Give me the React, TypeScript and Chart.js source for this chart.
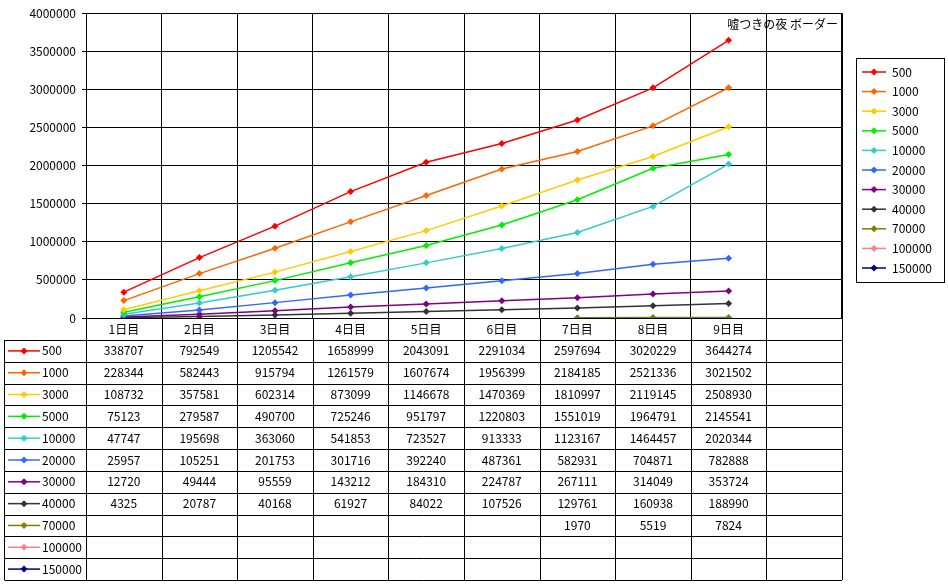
import React, { useEffect, useRef } from "react";
import { Chart, registerables } from "chart.js";
Chart.register(...registerables);

const categories = ["1日目", "2日目", "3日目", "4日目", "5日目", "6日目", "7日目", "8日目", "9日目", ""];
const seriesNames = ["500", "1000", "3000", "5000", "10000", "20000", "30000", "40000", "70000", "100000", "150000"];
const colors = ["#ff0000", "#ff6600", "#ffcc00", "#00ee00", "#33cccc", "#3366ff", "#800080", "#333333", "#808000", "#ff8080", "#000080"];
const s500 = [338707, 792549, 1205542, 1658999, 2043091, 2291034, 2597694, 3020229, 3644274, null];
const s1000 = [228344, 582443, 915794, 1261579, 1607674, 1956399, 2184185, 2521336, 3021502, null];
const s3000 = [108732, 357581, 602314, 873099, 1146678, 1470369, 1810997, 2119145, 2508930, null];
const s5000 = [75123, 279587, 490700, 725246, 951797, 1220803, 1551019, 1964791, 2145541, null];
const s10000 = [47747, 195698, 363060, 541853, 723527, 913333, 1123167, 1464457, 2020344, null];
const s20000 = [25957, 105251, 201753, 301716, 392240, 487361, 582931, 704871, 782888, null];
const s30000 = [12720, 49444, 95559, 143212, 184310, 224787, 267111, 314049, 353724, null];
const s40000 = [4325, 20787, 40168, 61927, 84022, 107526, 129761, 160938, 188990, null];
const s70000 = [null, null, null, null, null, null, 1970, 5519, 7824, null];
const s100000 = [null, null, null, null, null, null, null, null, null, null];
const s150000 = [null, null, null, null, null, null, null, null, null, null];
const allSeries = [s500, s1000, s3000, s5000, s10000, s20000, s30000, s40000, s70000, s100000, s150000];
const title = "嘘つきの夜 ボーダー";
const FONT = "'Noto Sans CJK JP', sans-serif";

function marker(ctx: CanvasRenderingContext2D, x: number, y: number, c: string) {
  ctx.fillStyle = c;
  ctx.beginPath();
  ctx.moveTo(x, y - 3.5); ctx.lineTo(x + 3.5, y); ctx.lineTo(x, y + 3.5); ctx.lineTo(x - 3.5, y);
  ctx.closePath(); ctx.fill();
}

const extras = {
  id: "extras",
  afterDraw(chart: any) {
    const ctx: CanvasRenderingContext2D = chart.ctx;
    const a = chart.chartArea;
    const xs = chart.scales.x;
    const colW = a.width / categories.length;
    const top = a.bottom;
    const headH = 22;
    const rowH = (580 - (top + headH)) / seriesNames.length;
    ctx.save();
    ctx.strokeStyle = "#000"; ctx.lineWidth = 1;
    ctx.font = "12px " + FONT; ctx.textBaseline = "middle";
    for (let i = 0; i <= categories.length; i++) {
      const x = Math.round(a.left + i * colW) + 0.5;
      ctx.beginPath(); ctx.moveTo(x, top); ctx.lineTo(x, 580); ctx.stroke();
    }
    const lx = 4.5;
    ctx.beginPath(); ctx.moveTo(lx, top + headH); ctx.lineTo(lx, 580); ctx.stroke();
    for (let r = 0; r <= seriesNames.length + 1; r++) {
      const y = Math.round(r === 0 ? top : top + headH + (r - 1) * rowH) + 0.5;
      ctx.beginPath(); ctx.moveTo(r === 0 ? a.left : lx, y); ctx.lineTo(a.right, y); ctx.stroke();
    }
    ctx.beginPath(); ctx.moveTo(Math.round(a.right) + 0.5, a.top); ctx.lineTo(Math.round(a.right) + 0.5, a.bottom); ctx.stroke();
    ctx.fillStyle = "#000"; ctx.textAlign = "center";
    categories.forEach((c, i) => ctx.fillText(c, xs.getPixelForValue(i), top + headH / 2));
    seriesNames.forEach((n, r) => {
      const cy = top + headH + r * rowH + rowH / 2;
      ctx.strokeStyle = colors[r]; ctx.lineWidth = 1.5;
      ctx.beginPath(); ctx.moveTo(8, cy); ctx.lineTo(40, cy); ctx.stroke();
      marker(ctx, 24, cy, colors[r]);
      ctx.fillStyle = "#000"; ctx.textAlign = "left";
      ctx.fillText(n, 42, cy);
      ctx.textAlign = "center";
      allSeries[r].forEach((v, i) => { if (v != null) ctx.fillText(String(v), xs.getPixelForValue(i), cy); });
    });
    ctx.strokeStyle = "#000"; ctx.lineWidth = 1;
    ctx.strokeRect(856.5, 58.5, 88, 224);
    seriesNames.forEach((n, r) => {
      const cy = 72 + r * 19.6;
      ctx.strokeStyle = colors[r]; ctx.lineWidth = 1.5;
      ctx.beginPath(); ctx.moveTo(862, cy); ctx.lineTo(886, cy); ctx.stroke();
      marker(ctx, 874, cy, colors[r]);
      ctx.fillStyle = "#000"; ctx.textAlign = "left";
      ctx.fillText(n, 892, cy);
    });
    ctx.textAlign = "right";
    ctx.fillText(title, 838, 24);
    ctx.restore();
  },
};

export default function App() {
  const ref = useRef<HTMLCanvasElement>(null);
  useEffect(() => {
    const chart = new Chart(ref.current!, {
      type: "line",
      data: {
        labels: categories,
        datasets: seriesNames.map((n, i) => ({
          label: n, data: allSeries[i], borderColor: colors[i], backgroundColor: colors[i],
          borderWidth: 1.5, pointStyle: "rectRot", pointRadius: 3.5, pointBorderWidth: 0, spanGaps: false,
        })),
      },
      options: {
        animation: false, responsive: false, devicePixelRatio: 1,
        layout: { padding: { left: 0, top: 3, right: 106, bottom: 0 } },
        plugins: { legend: { display: false }, tooltip: { enabled: false } },
        scales: {
          x: {
            offset: true,
            grid: { color: "#000", offset: true, drawTicks: false },
            border: { color: "#000" },
            ticks: { display: false },
            afterFit: (s: any) => { s.height = 266; },
          },
          y: {
            min: 0, max: 4000000,
            ticks: { stepSize: 500000, color: "#000", font: { size: 12, family: FONT }, padding: 6, callback: (v: any) => String(v) },
            grid: { color: "#000", drawTicks: true, tickLength: 4 },
            border: { color: "#000" },
            afterFit: (s: any) => { s.width = 86; },
          },
        },
      },
      plugins: [extras],
    });
    return () => chart.destroy();
  }, []);
  return (
    <div style={{ position: "fixed", left: 0, top: 0, width: 948, height: 584, background: "#fff" }}>
      <canvas ref={ref} width={948} height={584} style={{ width: 948, height: 584 }} />
    </div>
  );
}
